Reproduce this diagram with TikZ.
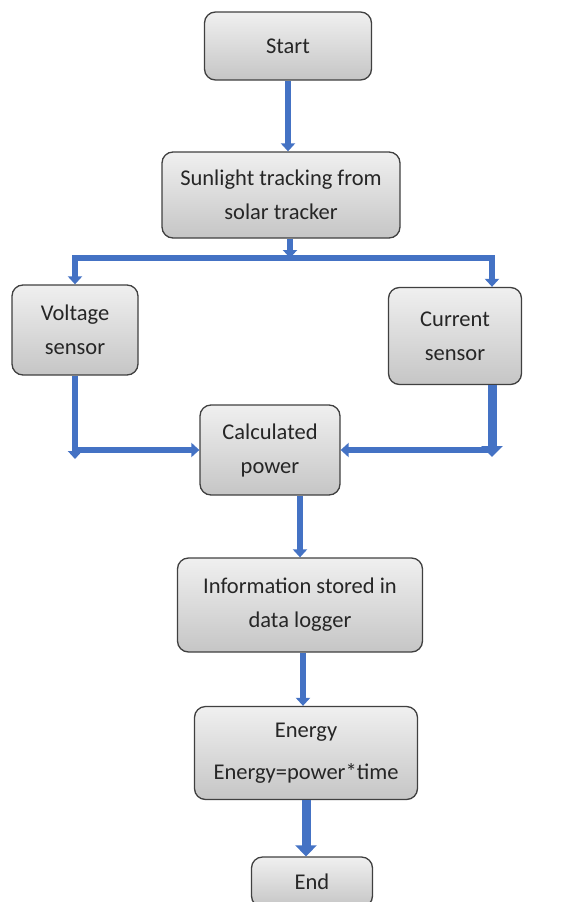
\documentclass[tikz,border=0pt]{standalone}
\usepackage{fontspec}
\setmainfont{Carlito}
\usetikzlibrary{arrows.meta}
\definecolor{flowblue}{RGB}{68,114,196}
\tikzset{
  stepbox/.style={draw=black!75, line width=1.3pt, rounded corners=11pt,
    top color=gray!12, bottom color=gray!45, text=black!85, align=center,
    font=\fontsize{22.5}{34}\selectfont, inner sep=0pt},
  flow/.style={draw=flowblue, line width=5.5pt, -{Triangle[width=14pt,length=8pt]}},
  bigflow/.style={draw=flowblue, line width=9pt, -{Triangle[width=21pt,length=11pt]}},
}
\begin{document}
\begin{tikzpicture}[x=1pt, y=-1pt]
\useasboundingbox (0,0) rectangle (571,902);

\node[stepbox, minimum width=167pt, minimum height=68pt] (start) at (288,46) {Start};
\node[stepbox, minimum width=238pt, minimum height=86pt] (sun) at (281,195) {Sunlight tracking from\\solar tracker};
\node[stepbox, minimum width=126pt, minimum height=90pt] (volt) at (75,330) {Voltage\\sensor};
\node[stepbox, minimum width=133pt, minimum height=97pt] (curr) at (455,336) {Current\\sensor};
\node[stepbox, minimum width=140pt, minimum height=90pt] (calc) at (270,450) {Calculated\\power};
\node[stepbox, minimum width=245pt, minimum height=94pt] (info) at (300,605) {Information stored in\\data logger};
\node[stepbox, minimum width=223pt, minimum height=93pt] (energy) at (306,753) {Energy\\[8pt]Energy=power*time};
\node[stepbox, minimum width=121pt, minimum height=50pt] (finish) at (312,882) {End};

\coordinate (split) at (290,258);
\coordinate (rdrop) at (492,258);

\draw[flow] (start.south) -- (start.south |- sun.north);
\draw[flow] (sun.south -| split) -- (split);
\draw[flow] (split) -| (volt.north);
\draw[flow, line cap=round] (split) -| (rdrop |- curr.north);

\draw[flow] (volt.south) -- ([yshift=-9pt]volt.south |- calc.west);
\draw[flow] (volt.south |- calc.west) -- (calc.west);
\draw[bigflow] (rdrop |- curr.south) -- ([yshift=-7pt]rdrop |- calc.east);
\draw[flow] (rdrop |- calc.east) -- (calc.east);

\draw[flow] (info.north |- calc.south) -- (info.north);
\draw[flow] ([xshift=3pt]info.south) -- ([xshift=3pt]info.south |- energy.north);
\draw[bigflow] (energy.south) -- (energy.south |- finish.north);

\end{tikzpicture}
\end{document}
